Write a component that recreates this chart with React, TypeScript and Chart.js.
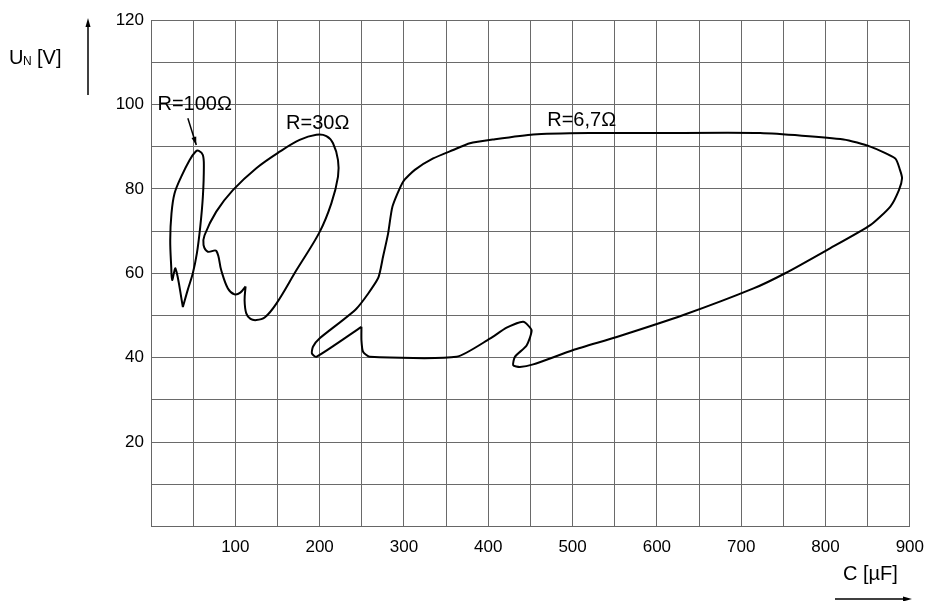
import React, { useEffect, useRef } from 'react';
import { Chart, registerables } from 'chart.js';

Chart.register(...registerables);

// ---- Data (C in µF, U_N in V) ----
const r100C = [37.8, 43.5, 49.6, 54.4, 58.4, 61.5, 62.7, 61.5, 56.8, 52.8, 45.7, 35.9, 27.9, 24.3, 22.8, 24.0, 25.1, 29.1, 37.8];
const r100U = [52.0, 56.0, 60.0, 64.7, 71.0, 78.1, 85.3, 88.0, 89.0, 88.8, 86.8, 82.9, 78.9, 74.2, 67.9, 61.5, 58.4, 61.1, 52.0];

const r30C = [112.2, 111.0, 113.0, 118.0, 124.9, 134.8, 148.7, 172.4, 200.1, 214.0, 221.8, 221.8, 215.9, 208.0, 196.1, 176.3, 152.6, 124.9, 97.1, 77.4, 63.5, 62.3, 67.5, 77.4, 83.3, 91.2, 99.1, 105.9, 112.2];
const r30U = [56.9, 53.6, 50.5, 49.2, 48.9, 49.5, 52.8, 60.7, 69.8, 76.6, 82.9, 86.8, 90.8, 92.5, 92.8, 91.6, 88.8, 84.9, 79.7, 74.6, 69.0, 66.7, 65.1, 65.3, 60.7, 56.4, 55.0, 55.4, 56.9];

const r67C = [249.6, 196.2, 190.8, 192.1, 200.1, 243.6, 269.3, 275.2, 281.2, 286.4, 299.0, 312.9, 334.6, 358.4, 378.2, 405.8, 453.3, 520.0, 600.0, 722.4, 821.5, 853.1, 882.8, 888.3, 890.8, 887.1, 876.9, 853.1, 801.7, 752.2, 714.6, 631.5, 552.4, 500.8, 453.3, 437.5, 429.6, 431.6, 445.5, 451.4, 441.5, 421.8, 401.9, 362.4, 259.4, 251.5, 249.6, 249.6];
const r67U = [47.3, 40.2, 41.0, 42.6, 44.6, 51.6, 58.8, 63.9, 69.4, 75.8, 81.7, 84.5, 87.2, 89.2, 90.8, 91.7, 92.9, 93.2, 93.2, 93.2, 91.7, 90.0, 87.2, 84.5, 82.5, 79.7, 75.8, 71.4, 65.5, 60.0, 56.4, 50.1, 44.9, 41.8, 38.4, 37.8, 38.2, 40.2, 42.9, 46.5, 48.5, 47.1, 44.5, 40.2, 40.2, 41.4, 44.1, 47.3];

const curveLabels = ['R=100Ω', 'R=30Ω', 'R=6,7Ω'];
const curveLabelC = [7.7, 197.7, 510.8];
const curveLabelU = [99.9, 95.6, 96.3];
const labelAlign: CanvasTextAlign[] = ['left', 'center', 'center'];

const pointerC = [43.7, 53.7];
const pointerU = [96.7, 90.4];

const xTickLabels = [100, 200, 300, 400, 500, 600, 700, 800, 900];
const yTickLabels = [20, 40, 60, 80, 100, 120];

const FONT = '"Liberation Sans", Arial, Helvetica, sans-serif';

const zip = (cs: number[], us: number[]) => cs.map((c, i) => ({ x: c, y: us[i] }));

function arrowHead(ctx: CanvasRenderingContext2D, x1: number, y1: number, x2: number, y2: number, len: number, half: number) {
  const a = Math.atan2(y2 - y1, x2 - x1);
  ctx.beginPath();
  ctx.moveTo(x2, y2);
  ctx.lineTo(x2 - len * Math.cos(a) + half * Math.sin(a), y2 - len * Math.sin(a) - half * Math.cos(a));
  ctx.lineTo(x2 - len * Math.cos(a) - half * Math.sin(a), y2 - len * Math.sin(a) + half * Math.cos(a));
  ctx.closePath();
  ctx.fill();
}

const annotations = {
  id: 'annotations',
  afterDraw(chart: any) {
    const ctx: CanvasRenderingContext2D = chart.ctx;
    const xs = chart.scales.x;
    const ys = chart.scales.y;
    ctx.save();
    ctx.fillStyle = '#000';
    ctx.strokeStyle = '#000';
    // curve labels
    ctx.font = `20px ${FONT}`;
    ctx.textBaseline = 'middle';
    curveLabels.forEach((t, i) => {
      ctx.textAlign = labelAlign[i];
      ctx.fillText(t, xs.getPixelForValue(curveLabelC[i]), ys.getPixelForValue(curveLabelU[i]));
    });
    // pointer
    const px1 = xs.getPixelForValue(pointerC[0]);
    const py1 = ys.getPixelForValue(pointerU[0]);
    const px2 = xs.getPixelForValue(pointerC[1]);
    const py2 = ys.getPixelForValue(pointerU[1]);
    ctx.lineWidth = 1.5;
    ctx.beginPath();
    ctx.moveTo(px1, py1);
    ctx.lineTo(px2, py2);
    ctx.stroke();
    arrowHead(ctx, px1, py1, px2, py2, 8, 2.5);

    // y axis title U_N [V]
    ctx.textAlign = 'left';
    ctx.textBaseline = 'alphabetic';
    ctx.font = `20px ${FONT}`;
    ctx.fillText('U', 9, 64);
    ctx.font = `12px ${FONT}`;
    ctx.fillText('N', 23, 65);
    ctx.font = `20px ${FONT}`;
    ctx.fillText('[V]', 37, 64);
    // y arrow
    ctx.lineWidth = 1.5;
    ctx.beginPath();
    ctx.moveTo(88, 95);
    ctx.lineTo(88, 24);
    ctx.stroke();
    arrowHead(ctx, 88, 95, 88, 18, 9, 2.5);

    // x axis title C [µF]
    ctx.font = `20px ${FONT}`;
    ctx.fillText('C [µF]', 843, 580);
    ctx.beginPath();
    ctx.moveTo(835, 599);
    ctx.lineTo(905, 599);
    ctx.stroke();
    arrowHead(ctx, 835, 599, 912, 599, 9, 2.5);
    ctx.restore();
  },
};

export default function App() {
  const ref = useRef<HTMLCanvasElement>(null);
  useEffect(() => {
    if (!ref.current) return;
    const line = (data: { x: number; y: number }[], tension: number) => ({
      data,
      showLine: true,
      borderColor: '#000',
      borderWidth: 2,
      pointRadius: 0,
      fill: false,
      tension,
    });
    const chart = new Chart(ref.current, {
      type: 'scatter',
      data: {
        datasets: [
          line(zip(r100C, r100U), 0.35),
          line(zip(r30C, r30U), 0.35),
          line(zip(r67C, r67U), 0.2),
        ],
      },
      options: {
        animation: false,
        responsive: false,
        maintainAspectRatio: false,
        layout: { padding: { left: 0, top: 20, right: 20, bottom: 0 } },
        plugins: { legend: { display: false }, tooltip: { enabled: false } },
        scales: {
          x: {
            type: 'linear',
            min: 0,
            max: 900,
            border: { color: '#666', width: 1 },
            grid: { color: '#6a6a6a', lineWidth: 1, drawTicks: false },
            ticks: {
              stepSize: 50,
              autoSkip: false,
              maxRotation: 0,
              padding: 11,
              color: '#000',
              font: { family: FONT, size: 17 },
              callback: (v: any) => (xTickLabels.includes(Number(v)) ? String(v) : ''),
            },
            afterFit: (s: any) => { s.height = 74.5; },
          },
          y: {
            type: 'linear',
            min: 0,
            max: 120,
            border: { color: '#666', width: 1 },
            grid: { color: '#6a6a6a', lineWidth: 1, drawTicks: false },
            ticks: {
              stepSize: 10,
              autoSkip: false,
              padding: 7,
              color: '#000',
              font: { family: FONT, size: 17 },
              callback: (v: any) => (yTickLabels.includes(Number(v)) ? String(v) : ''),
            },
            afterFit: (s: any) => { s.width = 151; },
          },
        },
      },
      plugins: [annotations],
    });
    return () => chart.destroy();
  }, []);
  return (
    <div style={{ position: 'fixed', left: 0, top: 0, width: 929, height: 601, overflow: 'hidden', background: '#fff' }}>
      <canvas ref={ref} width={935} height={601} style={{ display: 'block' }} />
    </div>
  );
}
